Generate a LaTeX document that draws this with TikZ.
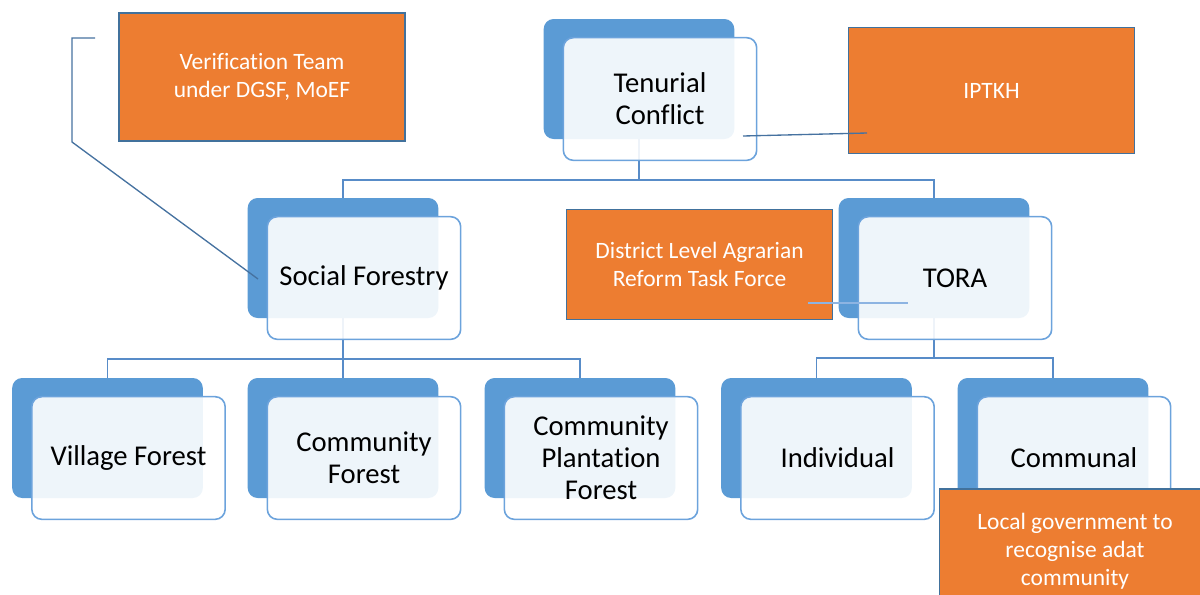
\documentclass[tikz,border=0pt]{standalone}
\usepackage{fontspec}
\setmainfont{Carlito}[Ligatures=CommonOff]
\usepackage{tikz}
\usetikzlibrary{positioning,calc,backgrounds}
\definecolor{cBack} {RGB}{91,155,213}
\definecolor{cFrame}{RGB}{108,163,220}
\definecolor{cTree} {RGB}{88,140,200}
\definecolor{cCall} {RGB}{70,114,160}
\definecolor{cLite} {RGB}{141,180,226}
\definecolor{cOrng} {RGB}{237,125,49}
\definecolor{cEdge} {RGB}{65,113,156}
\tikzset{
  backbox/.style={fill=cBack,rounded corners=7.5pt,minimum width=143pt,
                  minimum height=90pt,inner sep=0pt},               % blue plate behind
  frontbox/.style={draw=cFrame,line width=1.2pt,fill=white,fill opacity=0.9,
                   text opacity=1,rounded corners=7.5pt,minimum width=145pt,
                   minimum height=92pt,inner sep=0pt,align=center,
                   font=\fontsize{21.5}{24}\selectfont},            % text card
  note/.style={draw=cEdge,line width=0.9pt,fill=cOrng,text=white,align=center,
               inner sep=0pt,font=\fontsize{17.6}{21}\selectfont},  % orange note
  tree/.style={cTree,line width=1.3pt},
  callout/.style={cCall,line width=1pt},
}
\begin{document}
\begin{tikzpicture}[x=0.75pt,y=-0.75pt]
  \useasboundingbox (0,0) rectangle (1200,594);
  % level 0
  \node[backbox]  (tcB) at (639,79){};
  \node[frontbox] (tcF) at ($(tcB)+(21,20)$){Tenurial\\Conflict};
  % level 1
  \node[backbox]  (sfB) at (343,258){};
  \node[frontbox] (sfF) at ($(sfB)+(21,20)$){Social Forestry};
  \node[backbox]  (trB) at (934,258){};
  \node[frontbox] (trF) at ($(trB)+(21,20)$){TORA};
  % level 2
  \node[backbox]  (vfB) at (107.5,438){};
  \node[frontbox] (vfF) at ($(vfB)+(21,20)$){Village Forest};
  \node[backbox]  (cfB) at (343,438){};
  \node[frontbox] (cfF) at ($(cfB)+(21,20)$){Community\\Forest};
  \node[backbox]  (cpB) at (580,438){};
  \node[frontbox] (cpF) at ($(cpB)+(21,20)$){Community\\Plantation\\Forest};
  \node[backbox]  (inB) at (816.5,438){};
  \node[frontbox] (inF) at ($(inB)+(21,20)$){Individual};
  \node[backbox]  (coB) at (1053,438){};
  \node[frontbox] (coF) at ($(coB)+(21,20)$){Communal};
  % elbow connectors, kept behind the cards
  \begin{scope}[on background layer]
    \coordinate (tcJ) at (639,180);
    \coordinate (sfJ) at (343,359);
    \coordinate (trJ) at (934,358);
    \draw[tree](tcB.south)--(tcJ)-|(sfB.north);
    \draw[tree](tcJ)-|(trB.north);
    \draw[tree](sfB.south)--(sfJ)-|(vfB.north);
    \draw[tree](sfJ)-|(cpB.north);
    \draw[tree](sfJ)--(cfB.north);
    \draw[tree](trB.south)--(trJ)-|(inB.north);
    \draw[tree](trJ)-|(coB.north);
  \end{scope}
  % orange notes
  \node[note,minimum width=214.5pt,minimum height=96pt] (vt) at (262,77)
    {Verification Team\\under DGSF, MoEF};
  \node[note,minimum width=215pt,minimum height=95pt]   (ip) at (991.5,90.5){IPTKH};
  \node[note,minimum width=200pt,minimum height=83pt]   (dl) at (699.5,264.5)
    {District Level Agrarian\\Reform Task Force};
  \node[note,minimum width=203pt,minimum height=90pt,text depth=0pt] (lg) at (1075,549)
    {Local government to\\recognise adat\\community};
  % callout lines
  \coordinate (vtA) at (95,38);
  \coordinate (vtK) at (72,38);
  \coordinate (vtL) at (72,142);
  \coordinate (vtE) at (258,279);
  \draw[callout](vtA)--(vtK)--(vtL)--(vtE);
  \coordinate (ipA) at (743,136);
  \coordinate (ipE) at (867,133);
  \draw[callout](ipA)--(ipE);
  \coordinate (dlA) at (808,303);
  \coordinate (dlE) at (908,303);
  \draw[cLite,line width=1pt](dlA)--(dlE);
\end{tikzpicture}
\end{document}
